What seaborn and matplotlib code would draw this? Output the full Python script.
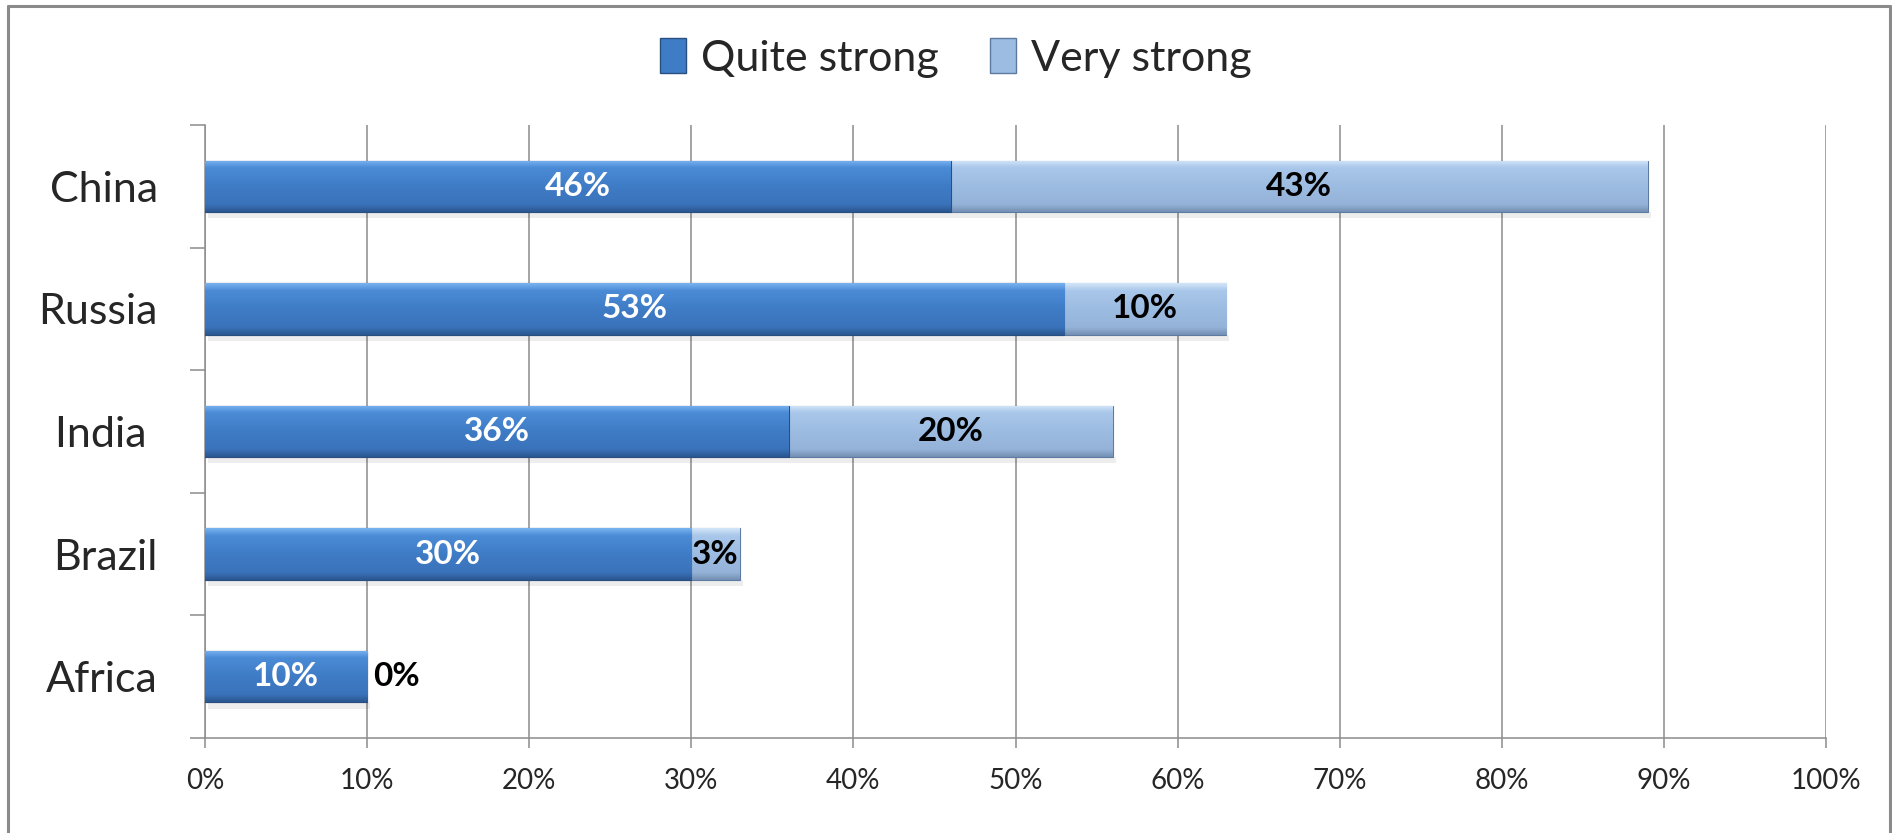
import numpy as np
import pandas as pd
import matplotlib
matplotlib.use("Agg")
import matplotlib.pyplot as plt
import seaborn as sns
from matplotlib.patches import Patch
from matplotlib.lines import Line2D
from matplotlib.colors import LinearSegmentedColormap

# ---- data ----
categories = ["China", "Russia", "India", "Brazil", "Africa"]
quite_strong = [46, 53, 36, 30, 10]
very_strong = [43, 10, 20, 3, 0]
series_names = ["Quite strong", "Very strong"]
x_ticks = [0, 10, 20, 30, 40, 50, 60, 70, 80, 90, 100]
x_tick_labels = [f"{v}%" for v in x_ticks]

sns.set_theme(style="white")
plt.rcParams["font.family"] = ["Lato", "DejaVu Sans"]

df = pd.DataFrame({"cat": categories, "quite": quite_strong,
                   "total": np.array(quite_strong) + np.array(very_strong)})

DARK = "#3f7cc6"
LIGHT = "#9dbce1"
GRID = "#8c8c8c"

fig = plt.figure(figsize=(18.92, 8.33), dpi=100)
ax = fig.add_axes([205 / 1892, 1 - 738 / 833, (1826 - 205) / 1892, (738 - 125) / 833])

sns.barplot(data=df, y="cat", x="total", color=LIGHT, width=0.42, ax=ax,
            edgecolor="#5d7aa0", linewidth=0.8, saturation=1, zorder=3)
n_light = len(ax.patches)
sns.barplot(data=df, y="cat", x="quite", color=DARK, width=0.42, ax=ax,
            edgecolor="#294f80", linewidth=0.8, saturation=1, zorder=4)

# bevel-like gradient overlay clipped to each bar (row 0 = visual top of bar)
cm_dark = LinearSegmentedColormap.from_list(
    "d", [(0, "#78b2f0"), (0.14, "#4b8bd6"), (0.5, "#3f7cc6"), (0.86, "#3a73ba"), (1, "#2a5690")])
cm_light = LinearSegmentedColormap.from_list(
    "l", [(0, "#d2e5f9"), (0.14, "#a9c7ea"), (0.5, "#9dbce1"), (0.86, "#95b3d8"), (1, "#7490b5")])
grad = np.linspace(0, 1, 64).reshape(-1, 1)
for i, p in enumerate(list(ax.patches)):
    if p.get_width() <= 0:
        continue
    cmap = cm_light if i < n_light else cm_dark
    x0, y0 = p.get_x(), p.get_y()
    w, h = p.get_width(), p.get_height()
    top, bot = min(y0, y0 + h), max(y0, y0 + h)
    im = ax.imshow(grad, cmap=cmap, aspect="auto",
                   extent=[x0, x0 + w, bot, top], origin="upper",
                   zorder=p.get_zorder() + 0.1, interpolation="bilinear")
    im.set_clip_path(p)
    if i < n_light:
        ax.add_patch(plt.Rectangle((x0 + 0.2, bot), w, 0.05, color="#000000",
                                   alpha=0.07, zorder=2, lw=0))

# data labels
for i, (q, v) in enumerate(zip(quite_strong, very_strong)):
    ax.text(q / 2, i, f"{q}%", ha="center", va="center", color="white",
            fontsize=24, fontweight="bold", zorder=6)
    if v == 0:
        ax.text(q + 0.4, i, f"{v}%", ha="left", va="center", color="black",
                fontsize=24, fontweight="bold", zorder=6)
    else:
        ax.text(q + v / 2, i, f"{v}%", ha="center", va="center", color="black",
                fontsize=24, fontweight="bold", zorder=6)

ax.set_xlim(0, 100)
ax.set_ylim(len(categories) - 0.5, -0.5)
ax.set_xticks(x_ticks)
ax.set_xticklabels(x_tick_labels, fontsize=20)
ax.set_xlabel("")
ax.set_ylabel("")

ax.set_yticks(np.arange(len(categories) + 1) - 0.5)
ax.set_yticklabels([])
ax.set_yticks(np.arange(len(categories)), minor=True)
ax.set_yticklabels(["China", "Russia", "India ", "Brazil", "Africa"], minor=True, fontsize=31)
ax.tick_params(axis="y", which="minor", length=0, pad=34)
ax.tick_params(axis="y", which="major", length=11, width=1.1, color=GRID, direction="out", left=True)
ax.tick_params(axis="x", length=7.5, width=1.1, color=GRID, direction="out", bottom=True, pad=14)

ax.grid(axis="x", color=GRID, linewidth=1.1, zorder=0)
ax.set_axisbelow(True)
for s in ["top", "right"]:
    ax.spines[s].set_visible(False)
for s in ["left", "bottom"]:
    ax.spines[s].set_color(GRID)
    ax.spines[s].set_linewidth(1.1)

handles = [Patch(facecolor=DARK, edgecolor="#294f80", label=series_names[0]),
           Patch(facecolor=LIGHT, edgecolor="#5d7aa0", label=series_names[1])]
fig.legend(handles=handles, loc="center", bbox_to_anchor=(956 / 1892, 1 - 58 / 833),
           ncol=2, frameon=False, fontsize=31, handlelength=0.6, handleheight=0.85,
           handletextpad=0.35, columnspacing=1.2)

# outer chart border
bc = "#8a8a8a"
fig.add_artist(Line2D([8 / 1892, 8 / 1892], [0, 1 - 6 / 833], transform=fig.transFigure, color=bc, lw=2.2))
fig.add_artist(Line2D([8 / 1892, 1890 / 1892], [1 - 6 / 833, 1 - 6 / 833], transform=fig.transFigure, color=bc, lw=2.2))
fig.add_artist(Line2D([1890 / 1892, 1890 / 1892], [0, 1 - 6 / 833], transform=fig.transFigure, color=bc, lw=2.2))

fig.savefig("out.png", dpi=100)
